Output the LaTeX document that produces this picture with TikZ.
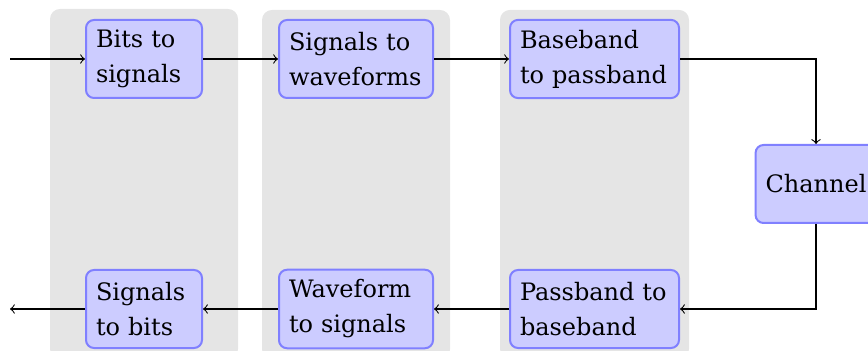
\documentclass[tikz,border=0pt]{standalone}
\usepackage{fontspec}
\setmainfont{DejaVu Serif}
\usetikzlibrary{backgrounds,calc}

\tikzset{
  stage/.style={draw=blue!50, fill=blue!20, line width=0.75pt, rounded corners=3pt,
    inner sep=3.75pt, minimum height=29.25pt, align=left,
    font=\fontsize{9pt}{13.1pt}\selectfont},
  narrow/.style={stage, text width=36pt},
  middle/.style={stage, text width=50.25pt},
  wide/.style={stage, text width=55.875pt},
  column/.style={fill=black!10, rounded corners=3.75pt},
  flow/.style={->, line width=0.4pt},
}

\begin{document}
\begin{tikzpicture}[x=0.375pt, y=-0.375pt]
  \useasboundingbox (0,0) rectangle (868,351);

  % transmitter chain
  \node[narrow] (bits2sig) at (144,59)   {Bits to\\signals};
  \node[middle] (sig2wave) at (356,59)   {Signals to\\waveforms};
  \node[wide]   (base2pass) at (594.5,59) {Baseband\\to passband};

  % channel
  \node[stage, minimum width=45pt] (chan) at (816,184) {Channel};

  % receiver chain
  \node[narrow] (sig2bits) at (144,309)   {Signals\\to bits};
  \node[middle] (wave2sig) at (356,309)   {Waveform\\to signals};
  \node[wide]   (pass2base) at (594.5,309) {Passband to\\baseband};

  % shaded columns behind each pair of stages
  \begin{scope}[on background layer]
    \path[column] ($(bits2sig.north)+(-94,-10)$)  rectangle ($(sig2bits.south)+(94,10)$);
    \path[column] ($(sig2wave.north)+(-94,-9)$)   rectangle ($(wave2sig.south)+(94,10)$);
    \path[column] ($(base2pass.north)+(-94.5,-9)$) rectangle ($(pass2base.south)+(94.5,10)$);
  \end{scope}

  % connectors
  \coordinate (input)  at (10,59);
  \coordinate (output) at (10,309);
  \draw[flow] (input) -- (bits2sig);
  \draw[flow] (bits2sig) -- (sig2wave);
  \draw[flow] (sig2wave) -- (base2pass);
  \draw[flow] (base2pass.east) -| (chan.north);
  \draw[flow] (chan.south) |- (pass2base.east);
  \draw[flow] (pass2base) -- (wave2sig);
  \draw[flow] (wave2sig) -- (sig2bits);
  \draw[flow] (sig2bits) -- (output);
\end{tikzpicture}
\end{document}
